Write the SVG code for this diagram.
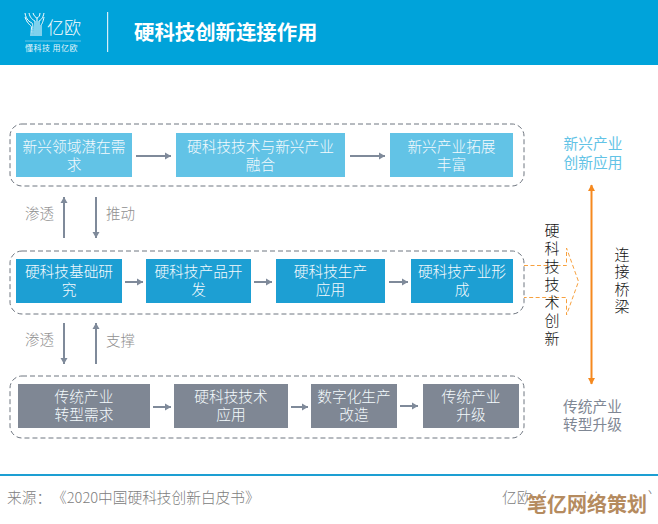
<svg xmlns="http://www.w3.org/2000/svg" width="658" height="524" viewBox="0 0 658 524">
<defs>
<marker id="ag" markerUnits="userSpaceOnUse" markerWidth="8" markerHeight="8" refX="6" refY="4" orient="auto"><path d="M0,0.5L6,4L0,7.5z" fill="#7f8a9a"/></marker>
<marker id="ao" markerUnits="userSpaceOnUse" markerWidth="8" markerHeight="8" refX="6" refY="4" orient="auto-start-reverse"><path d="M0,0.5L6.5,4L0,7.5z" fill="#f5891f"/></marker>
</defs>
<style>
text{font-family:"Noto Sans CJK SC","Liberation Sans",sans-serif}
.c{text-anchor:middle;font-size:14.7px;fill:#f4fafd;font-weight:300}
.g{fill:none;stroke:#6f7680;stroke-width:1;stroke-dasharray:5 3}
.l{stroke:#7f8a9a;stroke-width:2;fill:none;marker-end:url(#ag)}
.a{fill:#62c3e6}.b{fill:#1d9fd3}.d{fill:#7f8794}
.s{font-size:14.5px;fill:#8f8f8f;font-weight:300}
.v{font-size:15px;fill:#111;text-anchor:middle;font-weight:300}
.o{stroke:#f7a13f;stroke-width:1;stroke-dasharray:4 2.5;fill:none}
</style>
<rect width="658" height="524" fill="#fff"/>
<g id="header">
<rect width="658" height="65" fill="#00a3da"/>
<g fill="none" stroke="#fff" stroke-width="1">
<path d="M25,13C26,20 30,22 32,23C33,24 33,28 33,36M25,17C27,23 30,25 31,26C32,27 31,30 31,36M29,13C30,18 33,20 35,21L35,36M33,13C34,16 36,18 37,18L37,36M44,13C43,18 41,20 39,21L39,36M44,17C43,22 42,24 41,25L41,36M40,13C40,16 38,18 37,18"/>
<path d="M25,41H81" opacity=".4"/>
</g>
<text x="47" y="34" font-size="17" fill="#fff" font-weight="300">亿欧</text>
<text x="25" y="51" font-size="8" fill="#fff" letter-spacing=".45" opacity=".9">懂科技 用亿欧</text>
<rect x="107" y="12" width="1.2" height="40" fill="#d5eef8"/>
<text x="134" y="40" font-size="20.4" font-weight="700" fill="#fff">硬科技创新连接作用</text>
</g>
<g id="connectors">
<path class="l" d="M136,156H171"/><path class="l" d="M350,156H385"/>
<path class="l" d="M125,282H143"/><path class="l" d="M254,282H272"/><path class="l" d="M389,282H408"/>
<path class="l" d="M153,407H171"/><path class="l" d="M291,407H308"/><path class="l" d="M400,406H418"/>
<path class="l" d="M64,238V197"/><path class="l" d="M96,197V238"/>
<path class="l" d="M64,323V364"/><path class="l" d="M96,364V323"/>
<path d="M591.500,185V384" stroke="#f5891f" stroke-width="2" fill="none" marker-start="url(#ao)" marker-end="url(#ao)"/>
<path class="o" d="M524,265.500H566.500V248L578.500,281.500L566.500,315V297.500H524"/>
</g>
<g id="group-top"><rect class="g" x="10" y="124" width="514" height="62" rx="12"/></g>
<g id="group-mid"><rect class="g" x="10" y="251" width="514" height="63" rx="12"/></g>
<g id="group-bottom"><rect class="g" x="10" y="376" width="514" height="62" rx="12"/></g>
<g id="n1"><rect class="a" x="16" y="133" width="116" height="44"/><text class="c" x="74" y="152">新兴领域潜在需</text><text class="c" x="74" y="170">求</text></g>
<g id="n2"><rect class="a" x="176" y="133" width="169" height="44"/><text class="c" x="260.500" y="152">硬科技技术与新兴产业</text><text class="c" x="260.500" y="170">融合</text></g>
<g id="n3"><rect class="a" x="390" y="133" width="123" height="44"/><text class="c" x="451.500" y="152">新兴产业拓展</text><text class="c" x="451.500" y="170">丰富</text></g>
<g id="n4"><rect class="b" x="16" y="259" width="106" height="44"/><text class="c" x="69" y="277">硬科技基础研</text><text class="c" x="69" y="295">究</text></g>
<g id="n5"><rect class="b" x="146" y="259" width="105" height="44"/><text class="c" x="198.500" y="277">硬科技产品开</text><text class="c" x="198.500" y="295">发</text></g>
<g id="n6"><rect class="b" x="276" y="259" width="109" height="44"/><text class="c" x="330.500" y="277">硬科技生产</text><text class="c" x="330.500" y="295">应用</text></g>
<g id="n7"><rect class="b" x="411" y="259" width="102" height="44"/><text class="c" x="462" y="277">硬科技产业形</text><text class="c" x="462" y="295">成</text></g>
<g id="n8"><rect class="d" x="18" y="384" width="132" height="44"/><text class="c" x="84" y="402">传统产业</text><text class="c" x="84" y="420">转型需求</text></g>
<g id="n9"><rect class="d" x="174" y="384" width="114" height="44"/><text class="c" x="231" y="402">硬科技技术</text><text class="c" x="231" y="420">应用</text></g>
<g id="n10"><rect class="d" x="311" y="384" width="86" height="44"/><text class="c" x="354" y="402">数字化生产</text><text class="c" x="354" y="420">改造</text></g>
<g id="n11"><rect class="d" x="423" y="384" width="96" height="44"/><text class="c" x="471" y="402">传统产业</text><text class="c" x="471" y="420">升级</text></g>
<g id="labels">
<text class="s" x="25" y="219">渗透</text><text class="s" x="106" y="219">推动</text>
<text class="s" x="25" y="345">渗透</text><text class="s" x="106" y="346">支撑</text>
<text x="593" y="149" font-size="14.7" fill="#62c3e6" text-anchor="middle">新兴产业</text>
<text x="593" y="168" font-size="14.7" fill="#62c3e6" text-anchor="middle">创新应用</text>
<text x="592.500" y="412" font-size="14.7" fill="#7f8794" text-anchor="middle">传统产业</text>
<text x="592.500" y="430" font-size="14.7" fill="#7f8794" text-anchor="middle">转型升级</text>
<text class="v" x="552" y="236">硬</text><text class="v" x="552" y="254">科</text><text class="v" x="552" y="272">技</text><text class="v" x="552" y="290">技</text><text class="v" x="552" y="308">术</text><text class="v" x="552" y="326">创</text><text class="v" x="552" y="344">新</text>
<text class="v" x="622" y="260">连</text><text class="v" x="622" y="277">接</text><text class="v" x="622" y="295">桥</text><text class="v" x="622" y="312">梁</text>
</g>
<g id="footer">
<rect y="474" width="658" height="2" fill="#1d9fd3"/>
<text x="7" y="503" font-size="14.700" fill="#808080" font-weight="300">来源：</text>
<text x="52" y="503" font-size="14.700" fill="#808080" font-weight="300">《2020中国硬科技创新白皮书》</text>
<text x="502" y="503" font-size="14.700" fill="#808080" font-weight="300">亿欧（www.iyiou.com）</text>
<rect x="528" y="494" width="130" height="30" fill="#fff"/>
<text x="527" y="512" font-size="20" font-weight="700" fill="#b58b5f">笔亿网络策划</text>
</g>
</svg>
